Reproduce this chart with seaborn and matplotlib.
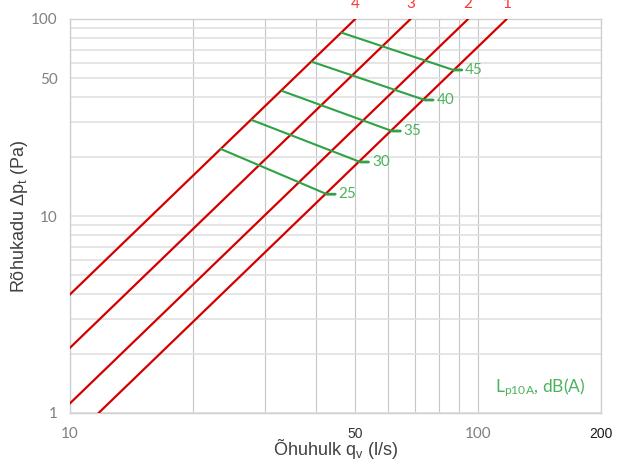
import pandas as pd
import matplotlib
matplotlib.use('Agg')
import matplotlib.pyplot as plt
from matplotlib.ticker import FixedLocator, NullFormatter
import seaborn as sns

# Duct characteristic lines (pressure drop ~ q^2), read at 1 Pa and 100 Pa
line_names = ['1', '2', '3', '4']
q_at_1pa = [11.75, 9.45, 6.83, 5.0]
q_at_100pa = [117.5, 94.5, 68.3, 50.0]

# Sound level lines Lp10A, dB(A): start on line 4, end on line 1
sound_levels = [25, 30, 35, 40, 45]
sound_q_start = [23.4, 27.9, 33.1, 39.1, 46.3]
sound_p_start = [21.9, 30.7, 43.1, 60.7, 85.2]
sound_q_end = [42.6, 51.4, 61.5, 74.0, 87.0]
sound_p_end = [12.9, 18.8, 27.0, 38.8, 55.1]

x_ticks = [10, 50, 100, 200]
x_minor = [20, 30, 40, 60, 70, 80, 90]
y_ticks = [1, 10, 50, 100]
y_minor = [2, 3, 4, 5, 6, 7, 8, 9, 20, 30, 40, 60, 70, 80, 90]

red = '#d40000'
red_text = '#ff3333'
green = '#2fa245'
green_text = '#4cb35c'

sns.set_style("white")
plt.rcParams['font.family'] = ['Lato', 'DejaVu Sans']
plt.rcParams['mathtext.default'] = 'regular'

red_df = pd.DataFrame({
    'line': line_names + line_names,
    'q': q_at_1pa + q_at_100pa,
    'p': [1] * len(line_names) + [100] * len(line_names),
})
green_df = pd.DataFrame({
    'level': sound_levels + sound_levels,
    'q': sound_q_start + sound_q_end,
    'p': sound_p_start + sound_p_end,
})

fig, ax = plt.subplots(figsize=(6.19, 4.68), dpi=100)
fig.subplots_adjust(left=70 / 619, right=601 / 619, top=1 - 19 / 468, bottom=1 - 413 / 468)

sns.lineplot(data=red_df, x='q', y='p', units='line', estimator=None, sort=False,
             color=red, lw=1.6, ax=ax, zorder=3)
sns.lineplot(data=green_df, x='q', y='p', units='level', estimator=None, sort=False,
             color=green, lw=1.5, ax=ax, zorder=4)

ax.set_xscale('log')
ax.set_yscale('log')
ax.set_xlim(10, 200)
ax.set_ylim(1, 100)

# small tick + label at the end of each sound level line
for lvl, qe, pe in zip(sound_levels, sound_q_end, sound_p_end):
    ax.annotate('', xy=(qe, pe), xytext=(6, 0), textcoords='offset points',
                arrowprops=dict(arrowstyle='-', color=green, lw=2, shrinkA=0, shrinkB=0))
    ax.annotate(str(lvl), xy=(qe, pe), xytext=(8.5, 0), textcoords='offset points',
                ha='left', va='center', color=green_text, fontsize=11)

# line numbers above the plot
for name, qt in zip(line_names, q_at_100pa):
    ax.annotate(name, xy=(qt, 100), xytext=(0, 8), textcoords='offset points',
                ha='center', va='baseline', color=red_text, fontsize=11,
                annotation_clip=False)

ax.text(0.885, 0.053, 'L$_{p10A}$, dB(A)', transform=ax.transAxes, ha='center',
        va='baseline', color=green_text, fontsize=12.5)

# ticks and grid
ax.xaxis.set_major_locator(FixedLocator(x_ticks))
ax.xaxis.set_minor_locator(FixedLocator(x_minor))
ax.yaxis.set_major_locator(FixedLocator(y_ticks))
ax.yaxis.set_minor_locator(FixedLocator(y_minor))
ax.xaxis.set_minor_formatter(NullFormatter())
ax.yaxis.set_minor_formatter(NullFormatter())
ax.set_xticklabels([str(t) for t in x_ticks])
ax.set_yticklabels([str(t) for t in y_ticks])
ax.tick_params(which='both', length=0)
ax.tick_params(axis='x', pad=10)
ax.tick_params(axis='y', pad=9)

for lbl in ax.get_xticklabels() + ax.get_yticklabels():
    lbl.set_fontsize(11)
    lbl.set_color('#808080')
for i, lbl in enumerate(ax.get_xticklabels()):
    if x_ticks[i] in (50, 200):
        lbl.set_fontfamily('Liberation Sans')
        lbl.set_fontsize(10)
        lbl.set_color('#1a1a1a' if x_ticks[i] == 200 else '#333333')

ax.set_axisbelow(True)
ax.grid(True, which='both', axis='x', color='#c6c6c6', lw=0.8)
ax.grid(True, which='both', axis='y', color='#e0e0e0', lw=1.2)
for sp in ax.spines.values():
    sp.set_color('#d0d0d0')
    sp.set_linewidth(1.0)

ax.set_xlabel('Õhuhulk q$_v$ (l/s)', fontsize=13, color='#404040', family='Liberation Sans')
ax.set_ylabel('Rõhukadu Δp$_t$ (Pa)', fontsize=13, color='#404040', family='Liberation Sans')
ax.xaxis.set_label_coords(0.5, -0.062)
ax.yaxis.set_label_coords(-0.075, 0.5)

plt.savefig('out.png', dpi=100)
